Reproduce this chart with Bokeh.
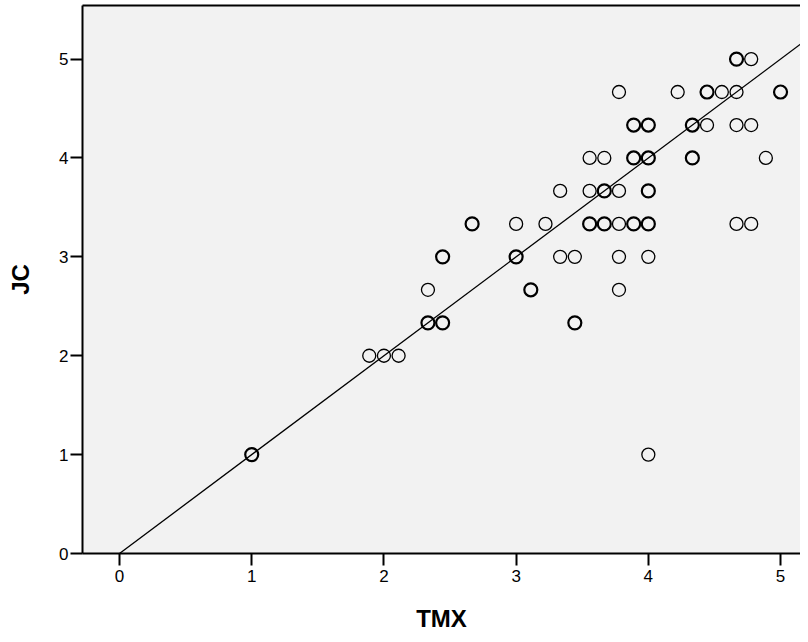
from collections import Counter
from bokeh.plotting import figure
from bokeh.models import ColumnDataSource, Range1d, FixedTicker, LinearAxis, Slope
from bokeh.embed import file_html
from bokeh.resources import INLINE

# Data (TMX on x, JC on y), duplicates included
tmx = [4.667, 4.667, 4.778,
       3.778, 4.222, 4.444, 4.444, 4.556, 4.667, 5.0, 5.0,
       3.889, 3.889, 4.0, 4.0, 4.333, 4.333, 4.444, 4.667, 4.778,
       3.556, 3.667, 3.889, 3.889, 4.0, 4.0, 4.333, 4.333, 4.889,
       3.333, 3.556, 3.667, 3.667, 3.778, 4.0, 4.0, 4.0,
       2.667, 2.667, 3.0, 3.222, 3.556, 3.556, 3.667, 3.667, 3.778, 3.889, 3.889, 4.0, 4.0, 4.667, 4.778,
       2.444, 2.444, 3.0, 3.0, 3.333, 3.444, 3.778, 4.0,
       2.333, 3.111, 3.111, 3.778,
       2.333, 2.333, 2.444, 2.444, 3.444, 3.444,
       1.889, 2.0, 2.111,
       1.0, 1.0, 4.0]
jc = [5.0, 5.0, 5.0,
      4.667, 4.667, 4.667, 4.667, 4.667, 4.667, 4.667, 4.667,
      4.333, 4.333, 4.333, 4.333, 4.333, 4.333, 4.333, 4.333, 4.333,
      4.0, 4.0, 4.0, 4.0, 4.0, 4.0, 4.0, 4.0, 4.0,
      3.667, 3.667, 3.667, 3.667, 3.667, 3.667, 3.667, 3.667,
      3.333, 3.333, 3.333, 3.333, 3.333, 3.333, 3.333, 3.333, 3.333, 3.333, 3.333, 3.333, 3.333, 3.333, 3.333,
      3.0, 3.0, 3.0, 3.0, 3.0, 3.0, 3.0, 3.0,
      2.667, 2.667, 2.667, 2.667,
      2.333, 2.333, 2.333, 2.333, 2.333, 2.333,
      2.0, 2.0, 2.0,
      1.0, 1.0, 1.0]

x_ticks = [0, 1, 2, 3, 4, 5]
y_ticks = [0, 1, 2, 3, 4, 5]
fit_slope = 1.0
fit_intercept = 0.0

counts = Counter(zip(tmx, jc))
ux = [k[0] for k in counts]
uy = [k[1] for k in counts]
lw = [2.2 if counts[k] > 1 else 1.3 for k in counts]
src = ColumnDataSource(dict(x=ux, y=uy, lw=lw))

FONT = "Liberation Sans"

p = figure(width=800, height=634, output_backend="svg", toolbar_location=None,
           x_range=Range1d(-0.28, 5.151), y_range=Range1d(0, 5.542),
           min_border_left=82, min_border_right=0, min_border_top=5,
           min_border_bottom=79, x_axis_label="TMX", y_axis_label="JC")
p.background_fill_color = "#f2f2f2"
p.border_fill_color = "white"
p.outline_line_color = None
p.grid.visible = False

for ax, ticks in ((p.xaxis[0], x_ticks), (p.yaxis[0], y_ticks)):
    ax.ticker = FixedTicker(ticks=ticks)
    ax.minor_tick_line_color = None
    ax.major_tick_in = 0
    ax.major_tick_out = 12
    ax.major_tick_line_width = 2
    ax.axis_line_width = 2
    ax.axis_line_color = "black"
    ax.major_tick_line_color = "black"
    ax.major_label_text_font = FONT
    ax.major_label_text_font_size = "17px"
    ax.major_label_text_color = "black"
    ax.axis_label_text_font = FONT
    ax.axis_label_text_font_size = "24px"
    ax.axis_label_text_font_style = "bold"
    ax.axis_label_text_color = "black"

p.xaxis[0].major_label_standoff = 4
p.xaxis[0].axis_label_standoff = 20
p.yaxis[0].major_label_standoff = 2
p.yaxis[0].axis_label_standoff = 22

top = LinearAxis(ticker=FixedTicker(ticks=[]), major_label_text_font_size="0px",
                 major_tick_line_color=None, minor_tick_line_color=None,
                 axis_line_width=2, axis_line_color="black")
p.add_layout(top, "above")

p.add_layout(Slope(gradient=fit_slope, y_intercept=fit_intercept,
                   line_color="black", line_width=1.3))

p.scatter("x", "y", source=src, marker="circle", size=13, fill_color=None,
          line_color="black", line_width="lw")

open("out.html", "w").write(file_html(p, INLINE))
